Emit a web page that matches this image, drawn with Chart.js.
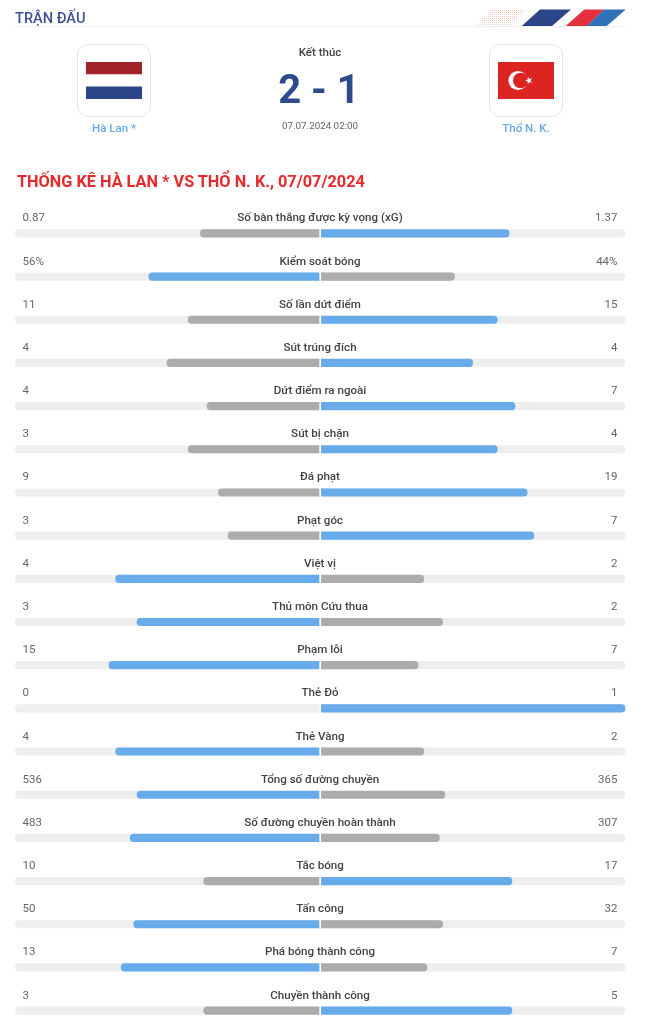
<!DOCTYPE html>
<html lang="vi">
<head>
<meta charset="utf-8">
<title>Thống kê Hà Lan vs Thổ N. K.</title>
<script src="https://cdn.jsdelivr.net/npm/chart.js@4"></script>
<style>
  html, body { margin: 0; padding: 0; background: #fff; }
  body { position: relative; width: 670px; height: 1024px; overflow: hidden; font-family: Roboto, sans-serif; }
  #statsChart { position: absolute; left: 0; top: 0; }
  .abs { position: absolute; white-space: nowrap; }
  .center { transform: translateX(-50%); }
  #pageTitle { left: 15px; top: 9px; font-size: 14.6px; line-height: 18px; font-weight: 500; color: #3d5296; }
  #titleLine { left: 15px; top: 26px; width: 610px; height: 1px; background: #efefef; }
  #decor { left: 470px; top: 8px; }
  .flagBox { top: 44px; width: 72px; height: 71px; border: 1px solid #e4e4e4; border-radius: 11px; background: #fff; }
  .flag { position: absolute; left: 8px; top: 17px; }
  .team { top: 120px; font-size: 11.5px; line-height: 16px; font-weight: 500; color: #64a8ea; }
  #status { left: 320px; top: 44px; font-size: 11.5px; line-height: 16px; font-weight: 500; color: #444; }
  #score { left: 319px; top: 65px; font-size: 40px; line-height: 50px; font-weight: 700; color: #2d4a8e; }
  #date { left: 320px; top: 118px; font-size: 9.8px; line-height: 16px; color: #666; }
  #heading { left: 17px; top: 171px; font-size: 16.3px; line-height: 21px; font-weight: 700; color: #e8292b; }
  .rowLabel { font-size: 11.6px; line-height: 16px; font-weight: 500; color: #444; }
  .rowValue { font-size: 11.5px; line-height: 16px; color: #666; }
</style>
</head>
<body>
<canvas id="statsChart" width="670" height="1024"></canvas>

<div class="abs" id="pageTitle">TRẬN ĐẤU</div>
<div class="abs" id="titleLine"></div>
<svg class="abs" id="decor" width="160" height="20" viewBox="470 8 160 20">
  <defs>
    <pattern id="dots" x="0" y="0" width="2" height="2" patternUnits="userSpaceOnUse">
      <rect width="1" height="1" fill="#f0806a"></rect>
    </pattern>
    <linearGradient id="fade" x1="0" x2="1" y1="1" y2="0">
      <stop offset="0" stop-color="#fff" stop-opacity="0.7"></stop>
      <stop offset="1" stop-color="#fff" stop-opacity="0.45"></stop>
    </linearGradient>
  </defs>
  <polygon points="474,26 509,26 525,9.5 492,9.5" fill="url(#dots)"></polygon>
  <polygon points="474,26 509,26 525,9.5 492,9.5" fill="url(#fade)"></polygon>
  <polygon points="521.7,26 552,26 571,9.5 540,9.5" fill="#2c4488"></polygon>
  <polygon points="565.7,26 587,26 604,9.5 584.3,9.5" fill="#e3303a"></polygon>
  <polygon points="586.7,26 606.7,26 625.7,9.5 604,9.5" fill="#2f72b8"></polygon>
</svg>

<div class="abs flagBox" style="left:77px">
  <svg class="flag" width="56" height="37" viewBox="0 0 56 37">
    <rect width="56" height="12.5" fill="#a2242b"></rect>
    <rect y="12.5" width="56" height="12" fill="#fff"></rect>
    <rect y="24.5" width="56" height="12.5" fill="#2c4488"></rect>
  </svg>
</div>
<div class="abs team center" style="left:114px">Hà Lan *</div>

<div class="abs flagBox" style="left:489px">
  <svg class="flag" width="56" height="37" viewBox="0 0 56 37">
    <rect width="56" height="37" fill="#dc2423"></rect>
    <circle cx="20" cy="18.5" r="9.6" fill="#fff"></circle>
    <circle cx="22.6" cy="18.5" r="7.7" fill="#dc2423"></circle>
    <polygon points="27.1,18.5 29.79,19.38 29.8,22.2 31.46,19.93 34.16,20.79 32.5,18.5 34.16,16.21 31.46,17.07 29.8,14.79 29.79,17.62" fill="#fff"></polygon>
  </svg>
</div>
<div class="abs team center" style="left:526px">Thổ N. K.</div>

<div class="abs center" id="status">Kết thúc</div>
<div class="abs center" id="score">2 - 1</div>
<div class="abs center" id="date">07.07.2024 02:00</div>
<div class="abs" id="heading">THỐNG KÊ HÀ LAN * VS THỔ N. K., 07/07/2024</div>

<script>
const categories = [
  'Số bàn thắng được kỳ vọng (xG)', 'Kiểm soát bóng', 'Số lần dứt điểm', 'Sút trúng đích',
  'Dứt điểm ra ngoài', 'Sút bị chặn', 'Đá phạt', 'Phạt góc', 'Việt vị', 'Thủ môn Cứu thua',
  'Phạm lỗi', 'Thẻ Đỏ', 'Thẻ Vàng', 'Tổng số đường chuyền', 'Số đường chuyền hoàn thành',
  'Tắc bóng', 'Tấn công', 'Phá bóng thành công', 'Chuyền thành công',
];
const homeLabels = ['0.87', '56%', '11', '4', '4', '3', '9', '3', '4', '3', '15', '0', '4', '536', '483', '10', '50', '13', '3'];
const awayLabels = ['1.37', '44%', '15', '4', '7', '4', '19', '7', '2', '2', '7', '1', '2', '365', '307', '17', '32', '7', '5'];

// bar lengths in % of the half track
const homeShare = [39.3, 56.2, 43.3, 50.3, 37.1, 43.3, 33.4, 30.2, 67.1, 60.1, 69.3, 0, 67.1, 60.1, 62.3, 38.2, 61.2, 65.3, 38.2];
const awayShare = [62.0, 44.1, 58.1, 50.0, 63.9, 58.1, 67.9, 70.1, 34.0, 40.2, 32.1, 100, 34.0, 40.9, 39.1, 62.9, 40.2, 35.0, 62.9];

const BLUE = '#68abeb';
const GREY = '#acacac';
const TRACK = '#eeeeee';
const BAR_H = 7.5;

// the side with the bigger stat is blue, a tie goes to the away side
const homeLeads = homeLabels.map((v, i) => parseFloat(v) > parseFloat(awayLabels[i]));

// white slit between the two halves of every bar
const centreGap = {
  id: 'centreGap',
  afterDatasetsDraw(chart) {
    const { ctx, chartArea, scales } = chart;
    const x0 = scales.x.getPixelForValue(0);
    ctx.save();
    ctx.fillStyle = '#fff';
    ctx.fillRect(x0 - 0.85, chartArea.top - BAR_H, 1.7, chartArea.bottom - chartArea.top + BAR_H * 2);
    ctx.restore();
  },
};

const chart = new Chart(document.getElementById('statsChart').getContext('2d'), {
  type: 'bar',
  plugins: [centreGap],
  data: {
    labels: categories,
    datasets: [
      {
        label: 'Hà Lan *',
        data: homeShare.map((v) => -v),
        backgroundColor: homeLeads.map((lead) => (lead ? BLUE : GREY)),
        borderRadius: 4,
        order: 1,
      },
      {
        label: 'Thổ N. K.',
        data: awayShare,
        backgroundColor: homeLeads.map((lead) => (lead ? GREY : BLUE)),
        borderRadius: 4,
        order: 1,
      },
      {
        label: 'track',
        data: categories.map(() => [-100, 100]),
        backgroundColor: TRACK,
        borderRadius: 4,
        borderSkipped: false,
        order: 2,
      },
    ],
  },
  options: {
    indexAxis: 'y',
    responsive: false,
    animation: false,
    events: [],
    grouped: false,
    barThickness: BAR_H,
    clip: false,
    layout: { padding: { left: 15.4, right: 45, top: 233.4, bottom: 13.4 } },
    plugins: { legend: { display: false }, tooltip: { enabled: false } },
    scales: {
      x: { display: false, min: -100, max: 100 },
      y: { display: false, offset: false },
    },
  },
});

function addText(cls, text, css) {
  const el = document.createElement('div');
  el.className = 'abs ' + cls;
  el.textContent = text;
  el.style.cssText = css;
  document.body.appendChild(el);
}

categories.forEach((name, i) => {
  const y = chart.scales.y.getPixelForValue(i);
  const top = Math.round(y - 24);
  addText('rowValue', homeLabels[i], `left:22.5px;top:${top}px`);
  addText('rowLabel center', name, `left:320px;top:${top}px`);
  addText('rowValue', awayLabels[i], `right:52.5px;top:${top}px`);
});
</script>
</body>
</html>
